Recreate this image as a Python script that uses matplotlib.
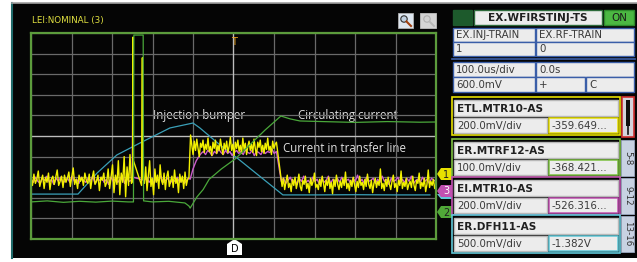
import numpy as np
import matplotlib.pyplot as plt
from matplotlib.patches import Rectangle, Polygon, Circle

# time in us (100 us/div, 10 div), amplitude in screen divisions
yellow_pre = [-2.05, -2.40, -1.85, -2.30, -2.10, -1.70, -2.45, -2.15, -1.90, -2.55, -2.00, -2.25, -1.80, -2.60,
              -2.10, -1.95, -2.35, -2.00, -1.65, -2.40, -2.20, -1.95, -2.50, -1.90, -2.25, -2.05, -1.75, -2.45,
              -2.00, -1.55, -2.35, -2.10, -2.55, -1.90, -2.20, -2.00, -2.40, -1.80, -2.15, -2.30, -1.85, -2.55,
              -2.05, -1.70, -2.35, -2.20, -1.90, -2.65, -2.00, -2.15, -1.80, -2.45, -2.25, -1.60, -2.55, -2.00,
              -1.40, -2.75, -1.90, -2.35, -1.20, -2.85, -1.80, -2.25, -1.00, -2.95, -1.50, -2.40, -0.90, -2.30]
yellow_pulse_t = [251, 252, 253, 273, 275, 276]
yellow_pulse = [-2.2, 4.8, -1.2, -2.4, 3.8, -2.0]
yellow_mid = [-2.30, -1.50, -2.65, -1.95, -1.20, -2.45, -2.05, -2.85, -1.60, -2.25, -1.90, -2.55, -1.40, -2.15,
              -2.35, -1.80, -2.60, -2.00, -1.70, -2.45, -2.20, -1.95, -2.50, -1.65, -2.30, -2.05, -2.75, -1.85,
              -2.25, -1.95, -2.55, -1.75, -2.40, -2.10, -2.00]
yellow_high = [0.05, -0.45, -0.90, -0.25, -0.70, -0.15, -0.60, -1.00, -0.35, -0.55, -0.20, -0.80, -0.40, -0.65,
               -0.10, -0.75, -0.50, -0.95, -0.30, -0.60, -0.20, -0.85, -0.45, -0.70, -0.15, -0.55, -0.90, -0.35,
               -0.65, -0.25, -0.80, -0.50, -0.05, -0.70, -0.40, -0.95, -0.30, -0.60, -0.20, -0.75, -0.45, -0.85,
               -0.10, -0.65, -0.35, -0.90, -0.50, -0.25, -0.70, -0.40, -0.80, -0.15, -0.60, -0.95, -0.30, -0.55,
               -0.20, -0.75, -0.45, -0.85, -0.35, -0.65, -0.10, -0.70, -0.50, -0.90, -0.25, -0.60, -0.40, -0.30]
yellow_post = [-2.45, -2.05, -2.60, -2.20, -1.90, -2.50, -2.30, -2.70, -2.10, -2.40, -2.00, -2.55, -2.25, -1.85,
               -2.45, -2.65, -2.15, -2.35, -1.95, -2.55, -2.30, -2.75, -2.05, -2.40, -2.20, -1.80, -2.50, -2.35,
               -2.60, -2.10, -2.45, -1.95, -2.30, -2.70, -2.15, -2.40, -2.00, -2.55, -2.25, -2.80, -2.10, -2.45,
               -1.90, -2.35, -2.60, -2.20, -2.50, -2.05, -2.40, -1.75, -2.55, -2.30, -2.65, -2.15, -2.45, -2.00,
               -2.35, -2.70, -2.20, -2.50, -1.95, -2.40, -2.25, -2.60, -2.10, -2.45, -1.85, -2.35, -2.55, -2.15,
               -2.75, -2.30, -2.05, -2.50, -2.20, -2.40, -1.60, -2.55, -2.30, -2.65, -2.10, -2.45, -2.00, -2.35,
               -2.60, -2.20, -1.90, -2.50, -2.30, -2.70, -2.15, -2.40, -1.70, -2.55, -2.25, -2.45, -2.05, -2.60,
               -2.35, -2.20, -2.50, -1.95, -2.40, -2.65, -2.15, -2.30, -1.80, -2.55, -2.25, -2.45, -2.05, -2.70,
               -2.35, -1.65, -2.50, -2.20, -2.40, -2.10, -2.55, -2.30]

magenta_pre = [-2.10, -2.25, -2.00, -2.20, -2.30, -2.05, -2.15, -1.95, -2.25, -2.10, -2.35, -2.05, -2.20, -2.00,
               -2.30, -2.15, -2.05, -2.25, -1.95, -2.20, -2.10, -2.30, -2.00, -2.15, -2.25, -2.05, -2.20, -1.95,
               -2.30, -2.10, -2.15, -2.00, -2.25, -2.10, -2.35, -2.00, -2.20, -2.05, -2.25, -2.10, -1.90, -2.30,
               -2.05, -2.20, -2.15]
magenta_spike_t = [250, 251, 252]
magenta_spike = [-2.1, 1.3, -2.0]
magenta_mid = [-2.15, -2.00, -2.25, -2.10, -2.30, -2.05, -2.20, -1.95, -2.25, -2.15, -2.05, -2.30, -2.10, -2.20,
               -2.00, -2.25, -2.10, -2.30, -2.15, -2.05]
magenta_rise_t = [393, 400, 408, 416]
magenta_rise = [-2.1, -1.6, -1.2, -0.95]
magenta_high = [-0.85, -0.75, -0.90, -0.70, -0.80, -0.95, -0.75, -0.85, -0.65, -0.80, -0.90, -0.70, -0.85, -0.75,
                -0.95, -0.80, -0.70, -0.85, -0.75, -0.90, -0.65, -0.80, -0.85, -0.70, -0.95, -0.75, -0.80, -0.90,
                -0.70, -0.85, -0.75, -0.80, -0.65, -0.85, -0.75]
magenta_post = [-2.20, -2.05, -2.30, -2.15, -2.00, -2.25, -2.10, -2.35, -2.05, -2.20, -1.95, -2.25, -2.15, -2.30,
                -2.00, -2.20, -2.10, -2.35, -2.05, -2.25, -2.15, -1.95, -2.30, -2.10, -2.20, -2.05, -2.25, -2.00,
                -2.30, -2.15, -2.10, -2.35, -2.05, -2.20, -1.90, -2.25, -2.10, -2.30, -2.00, -2.20, -2.15, -2.05,
                -2.30, -2.10, -2.25, -1.95, -2.20, -2.10, -2.35, -2.05, -2.20, -2.15, -2.00, -2.30, -2.10, -2.25,
                -2.05, -2.20, -1.95, -2.30, -2.15, -2.10, -2.25, -2.00, -2.20, -2.10, -2.30, -2.05, -2.15, -2.20]

green_t = [0, 40, 80, 120, 160, 200, 240, 253, 254, 277, 278, 300, 340, 380, 390, 393, 410, 425, 440, 470,
           505, 578, 617, 640, 664, 720, 800, 880, 960, 1000]
green_v = [-3.20, -3.15, -3.22, -3.17, -3.21, -3.16, -3.20, -3.20, 4.90, 4.90, -3.15, -3.20, -3.17, -3.25,
           -3.40, -3.50, -2.95, -2.60, -2.10, -1.60, -1.10, 0.29, 0.97, 0.83, 0.73, 0.70, 0.66, 0.70, 0.67, 0.68]

cyan_t = [0, 116, 163, 212, 269, 343, 400, 417, 467, 509, 622, 700, 800, 900, 985]
cyan_v = [-2.82, -2.82, -1.80, -0.92, -0.34, 0.39, 0.63, 0.39, -0.44, -1.07, -2.86, -2.86, -2.85, -2.86, -2.86]

# right-hand panel
ch_names = ["ETL.MTR10-AS", "ER.MTRF12-AS", "EI.MTR10-AS", "ER.DFH11-AS"]
ch_scales = ["200.0mV/div", "100.0mV/div", "200.0mV/div", "500.0mV/div"]
ch_offsets = ["-359.649...", "-368.421...", "-526.316...", "-1.382V"]
ch_tabs = ["", "5-8", "9-12", "13-16"]
ch_colors = ["#e8e000", "#7cc040", "#c050b0", "#60c8d8"]

YEL, MAG, GRN, CYN = "#f2f000", "#cc5ccc", "#4aa83a", "#3aa0b8"

yt = np.concatenate([np.linspace(0, 248, len(yellow_pre)), yellow_pulse_t,
                     np.linspace(280, 390, len(yellow_mid)), np.linspace(394, 606, len(yellow_high)),
                     np.linspace(620, 1000, len(yellow_post))])
yv = np.concatenate([yellow_pre, yellow_pulse, yellow_mid, yellow_high, yellow_post])
mt = np.concatenate([np.linspace(0, 248, len(magenta_pre)), magenta_spike_t,
                     np.linspace(280, 390, len(magenta_mid)), magenta_rise_t,
                     np.linspace(420, 606, len(magenta_high)), np.linspace(618, 1000, len(magenta_post))])
mv = np.concatenate([magenta_pre, magenta_spike, magenta_mid, magenta_rise, magenta_high, magenta_post])

W, H = 637, 262
fig = plt.figure(figsize=(W / 100, H / 100), dpi=100, facecolor="white")

# pixel-space layer for the instrument frame
ui = fig.add_axes([0, 0, 1, 1], zorder=0)
ui.set_xlim(0, W)
ui.set_ylim(H, 0)
ui.axis("off")
ui.add_patch(Rectangle((12, 3), W - 12, 255, fc="#050505", ec="none"))
ui.plot([12, 12], [3, 258], color="#1f6a6a", lw=1.5)
ui.plot([12, W], [3, 3], color="#a0a0a0", lw=1.2)

# main scope area
ax = fig.add_axes([31 / W, (H - 239) / H, 405 / W, 206 / H], zorder=2)
ax.set_facecolor("none")
ax.set_xlim(0, 1000)
ax.set_ylim(-5, 5)
ax.set_xticks(np.arange(0, 1001, 100))
ax.set_yticks(np.arange(-5, 6, 1))
ax.grid(color="#6a6a6a", lw=0.9)
ax.tick_params(length=0, labelbottom=False, labelleft=False)
for s in ax.spines.values():
    s.set_color("#5c9c3c")
    s.set_linewidth(1.6)
ax.axvline(500, color="#bdbdbd", lw=0.9)
ax.axhline(0, color="#bdbdbd", lw=0.9)

ax.plot(cyan_t, cyan_v, color=CYN, lw=0.9)
ax.plot(mt, mv, color=MAG, lw=1.0)
ax.plot(yt, yv, color=YEL, lw=1.0)
ax.plot(green_t, green_v, color=GRN, lw=0.9)
ax.text(500, 4.55, "T", color="#e8a020", ha="center", va="center", fontsize=7)

lbl = dict(color="#e0e0e0", fontsize=8.3, family="Open Sans", va="center", ha="left")
ui.text(153, 116, "Injection bumper", **lbl)
ui.text(298, 116, "Circulating current", **lbl)
ui.text(283, 148, "Current in transfer line", **lbl)
ui.text(32, 20, "LEI:NOMINAL (3)", color="#e0e040", fontsize=6.3, va="center", ha="left")

# zoom buttons
ui.add_patch(Rectangle((398, 13), 15, 15, fc="#dde6f0", ec="#b0b0b0", lw=0.6))
ui.add_patch(Circle((404, 19), 3.2, fc="#c0d0e0", ec="#303030", lw=0.8))
ui.plot([406.5, 411], [21.5, 26], color="#a04010", lw=1.5)
ui.add_patch(Rectangle((420, 13), 16, 15, fc="#d4d4d4", ec="#c0c0c0", lw=0.6))
ui.add_patch(Circle((427, 19), 3.2, fc="none", ec="#b0b0b0", lw=0.8))
ui.plot([429.5, 434], [21.5, 26], color="#b8b8b8", lw=1.4)

# channel flags on the right edge of the screen
for num, col, yc in [("1", "#e8e000", 174), ("3", "#c050b0", 191), ("2", "#50a838", 212)]:
    if num == "3":
        ui.add_patch(Polygon([(437, yc + 3), (441, yc + 8), (452, yc + 8), (452, yc + 3)], fc="#60c8d8", ec="none"))
    ui.add_patch(Polygon([(437, yc), (441, yc - 6), (452, yc - 6), (452, yc + 6), (441, yc + 6)],
                         fc=col, ec="none"))
    ui.text(446, yc + 0.5, num, color="#202020" if num != "3" else "white", fontsize=7, ha="center", va="center")

# trigger delay marker
ui.add_patch(Polygon([(227, 244), (234.5, 239), (242, 244), (242, 255), (227, 255)], fc="white", ec="none"))
ui.text(234.5, 248.5, "D", color="black", fontsize=7, ha="center", va="center")


def cell(x0, y0, x1, y1, txt="", fc="#ececec", ec="#3a5ea8", lw=1.0, bold=False, color="#3a3a3a", center=False):
    ui.add_patch(Rectangle((x0, y0), x1 - x0, y1 - y0, fc=fc, ec=ec, lw=lw))
    if txt:
        ui.text((x0 + x1) / 2 if center else x0 + 3, (y0 + y1) / 2 + 0.5, txt, color=color,
                fontsize=7.6 if bold else 7.4,
                fontweight="bold" if bold else "normal", ha="center" if center else "left", va="center")


# settings block
cell(453, 10, 472, 25, fc="#1d5a2c", ec="#1d5a2c")
cell(474, 10, 602, 25, "EX.WFIRSTINJ-TS", ec="#2d6a3a", bold=True, color="#202020", center=True)
cell(604, 10, 634, 25, "ON", fc="#4cb842", ec="#2d8a2a", color="#1a1a1a", center=True)
cell(453, 28, 535, 42, "EX.INJ-TRAIN")
cell(536, 28, 634, 42, "EX.RF-TRAIN")
cell(453, 42, 535, 56, "1")
cell(536, 42, 634, 56, "0")
ui.plot([452, 635], [59, 59], color="#3a5ea8", lw=1.2)
cell(453, 62, 535, 77, "100.0us/div")
cell(536, 62, 634, 77, "0.0s")
cell(453, 77, 535, 92, "600.0mV")
cell(536, 77, 585, 92, "+")
cell(586, 77, 634, 92, "C")

# channel blocks
tops = [97, 139, 177, 215]
for i in range(4):
    t = tops[i]
    c = ch_colors[i]
    ui.add_patch(Rectangle((452, t), 168, 38, fc="#050505", ec=c, lw=1.2))
    cell(454, t + 3, 618, t + 19, ch_names[i], ec="#b8b8b8", bold=True, color="#202020")
    cell(454, t + 21, 547, t + 36, ch_scales[i], ec="#b8b8b8")
    cell(549, t + 21, 618, t + 36, ch_offsets[i], ec=c, lw=1.1)
    if ch_tabs[i]:
        ui.add_patch(Rectangle((621, t + 1), 13, 36, fc="#c8d2e2", ec="#9aa8c0", lw=0.6))
        ui.text(627.5, t + 19, ch_tabs[i], rotation=-90, fontsize=6.3, color="#303030", ha="center", va="center")
    else:
        ui.add_patch(Rectangle((622, t), 12, 40, fc="#d4d4dc", ec="#d03030", lw=1.2))
        ui.add_patch(Rectangle((626, t + 3), 4, 26, fc="#101010", ec="none"))
        ui.plot([628, 628], [t + 29, t + 37], color="#101010", lw=1.2)

fig.savefig("out.png", dpi=100, facecolor="white")
